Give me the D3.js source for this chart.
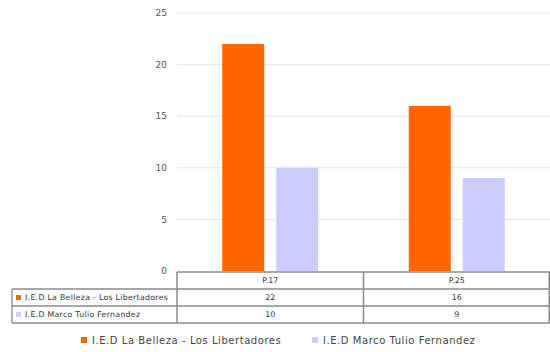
<!DOCTYPE html>
<html><head><meta charset="utf-8">
<script src="https://cdn.jsdelivr.net/npm/d3@7"></script>
<style>body{margin:0;background:#fff}svg{display:block}</style>
</head><body>
<svg id="c" width="550" height="352"></svg>
<script>
const categories = ["P.17", "P.25"];
const seriesNames = ["I.E.D La Belleza -  Los Libertadores", "I.E.D Marco Tulio Fernandez"];
const seriesA = [22, 16];
const seriesB = [10, 9];
const yTicks = [0, 5, 10, 15, 20, 25];
const colors = ["#FF6600", "#CCCCFF"];

(function () {
const FONT = "DejaVu Sans, Verdana, sans-serif";
const svg = d3.select("#c");
const plotL = 177, plotR = 550, plotT = 13, plotB = 271;
const x = d3.scaleBand().domain(categories).range([plotL, plotR]);
const y = d3.scaleLinear().domain([0, 25]).range([plotB, plotT]);
const series = [seriesA, seriesB];

// gridlines
svg.append("g").selectAll("line").data(yTicks.filter(d => d > 0)).join("line")
  .attr("x1", plotL).attr("x2", plotR)
  .attr("y1", d => y(d)).attr("y2", d => y(d))
  .attr("stroke", "#e6e6e6").attr("stroke-width", 1);

// y axis labels
svg.append("g").selectAll("text").data(yTicks).join("text")
  .attr("x", 167).attr("y", d => y(d)).attr("dy", "0.35em")
  .attr("text-anchor", "end").attr("font-family", FONT)
  .attr("font-size", 9).attr("fill", "#555").text(d => d);

// bars
const barW = 42, gap = 12;
const groupW = barW * 2 + gap;
series.forEach((vals, si) => {
  svg.append("g").selectAll("rect").data(categories).join("rect")
    .attr("x", c => x(c) + x.bandwidth() / 2 - groupW / 2 + (si === 0 ? 0 : barW + gap))
    .attr("width", barW)
    .attr("y", (c, i) => y(vals[i]))
    .attr("height", (c, i) => y(0) - y(vals[i]))
    .attr("fill", colors[si]);
});

// table
const rowH = 17;
const tTop = 272;
const labelLeft = 12;
const tg = svg.append("g").attr("font-family", FONT).attr("font-size", 7.8).attr("fill", "#333");
const lineC = "#8a8a8a";
tg.append("line").attr("x1", plotL).attr("x2", plotR).attr("y1", tTop).attr("y2", tTop).attr("stroke", lineC).attr("stroke-width", 1.3);
[1, 2, 3].forEach(r => {
  tg.append("line").attr("x1", labelLeft).attr("x2", plotR).attr("y1", tTop + r * rowH).attr("y2", tTop + r * rowH).attr("stroke", lineC).attr("stroke-width", 1.3);
});
tg.append("line").attr("x1", labelLeft).attr("x2", labelLeft).attr("y1", tTop + rowH).attr("y2", tTop + 3 * rowH).attr("stroke", lineC).attr("stroke-width", 1.3);
[plotL, x(categories[1]), plotR - 0.75].forEach(xx => {
  tg.append("line").attr("x1", xx).attr("x2", xx).attr("y1", tTop).attr("y2", tTop + 3 * rowH).attr("stroke", lineC).attr("stroke-width", 1.5);
});
tg.selectAll("text.h").data(categories).join("text").attr("class", "h")
  .attr("x", c => x(c) + x.bandwidth() / 2).attr("y", tTop + rowH / 2).attr("dy", "0.35em")
  .attr("text-anchor", "middle").text(c => c);
series.forEach((vals, si) => {
  const ry = tTop + (si + 1) * rowH + rowH / 2;
  tg.append("rect").attr("x", 16).attr("y", ry - 2.5).attr("width", 5).attr("height", 5).attr("fill", colors[si]);
  tg.append("text").attr("x", 25).attr("y", ry).attr("dy", "0.35em").attr("letter-spacing", 0.3).text(seriesNames[si]);
  tg.append("g").selectAll("text").data(categories).join("text")
    .attr("x", c => x(c) + x.bandwidth() / 2).attr("y", ry).attr("dy", "0.35em")
    .attr("text-anchor", "middle").text((c, i) => vals[i]);
});

// legend
const lg = svg.append("g").attr("font-family", FONT).attr("font-size", 10).attr("fill", "#444").attr("letter-spacing", 0.55);
const legX = [81, 312];
seriesNames.forEach((n, si) => {
  lg.append("rect").attr("x", legX[si]).attr("y", 337).attr("width", 6).attr("height", 6).attr("fill", colors[si]);
  lg.append("text").attr("x", legX[si] + 11).attr("y", 340).attr("dy", "0.35em").text(n);
});
})();
</script>
</body></html>
